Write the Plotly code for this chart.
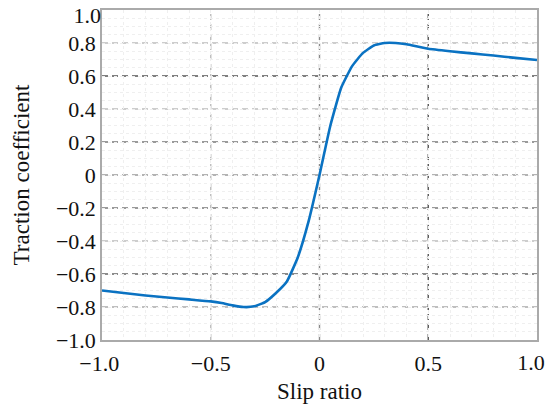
import plotly.graph_objects as go

slip_ratio = [-1.0, -0.9, -0.8, -0.7, -0.6, -0.5, -0.45, -0.4, -0.35, -0.3, -0.25, -0.2,
              -0.15, -0.1, -0.05, 0.0, 0.05, 0.1, 0.15, 0.2, 0.25, 0.3, 0.35, 0.4,
              0.5, 0.6, 0.7, 0.8, 0.9, 1.0]
traction = [-0.70, -0.715, -0.73, -0.742, -0.754, -0.766, -0.776, -0.79, -0.80, -0.796, -0.77, -0.715,
            -0.645, -0.50, -0.28, 0.0, 0.30, 0.53, 0.66, 0.74, 0.785, 0.80, 0.80, 0.792,
            0.765, 0.75, 0.737, 0.724, 0.71, 0.697]

y_ticks = [-1.0, -0.8, -0.6, -0.4, -0.2, 0, 0.2, 0.4, 0.6, 0.8]
y_tick_labels = ["\u22121.0", "\u22120.8", "\u22120.6", "\u22120.4", "\u22120.2", "0",
                 "0.2", "0.4", "0.6", "0.8"]
y_end_tick = [1.0]
y_end_label = ["1.0"]
x_ticks = [-1.0, -0.5, 0, 0.5]
x_tick_labels = ["\u22121.0\u00a0", "\u22120.5", "0", "0.5"]
x_end_tick = [1.0]
x_end_label = ["1.0"]

# dashed major grid levels and their shades
h_grid = [0.8, 0.6, 0.4, 0.2, 0.0, -0.2, -0.4, -0.6, -0.8]
h_grid_col = ["#bdbdbd", "#555555", "#bdbdbd", "#7a7a7a", "#9a9a9a", "#7a7a7a", "#bdbdbd", "#666666", "#aaaaaa"]
v_grid = [-0.5, 0.0, 0.5]
v_grid_col = ["#bdbdbd", "#8a8a8a", "#555555"]

fig = go.Figure()
fig.add_trace(go.Scatter(x=slip_ratio, y=traction, mode="lines",
                         line=dict(color="#0a72c2", width=2.6, shape="spline", smoothing=0.4),
                         showlegend=False, hoverinfo="skip"))
# empty trace to activate the overlay axes carrying the end tick labels
fig.add_trace(go.Scatter(x=[], y=[], xaxis="x2", yaxis="y2", showlegend=False))

shapes = []
for yv, c in zip(h_grid, h_grid_col):
    shapes.append(dict(type="line", xref="paper", x0=0, x1=1, yref="y", y0=yv, y1=yv,
                       line=dict(color=c, width=1.4, dash="6px,4px"), layer="below"))
for xv, c in zip(v_grid, v_grid_col):
    shapes.append(dict(type="line", yref="paper", y0=0, y1=1, xref="x", x0=xv, x1=xv,
                       line=dict(color=c, width=1.4, dash="6px,4px"), layer="below"))

font = "Liberation Serif, Times New Roman, serif"
fig.update_layout(
    width=546, height=409,
    margin=dict(l=102, r=9, t=10, b=69),
    paper_bgcolor="white", plot_bgcolor="white",
    font=dict(family=font, size=22, color="#111111"),
    shapes=shapes,
    xaxis=dict(range=[-1, 1], tickvals=x_ticks, ticktext=x_tick_labels,
               showgrid=False, zeroline=False, automargin=False,
               showline=True, linecolor="#aaaaaa", linewidth=1.5, mirror=True,
               ticks="", ticklen=0, ticklabeloverflow="allow", ticklabelstandoff=3,
               minor=dict(dtick=0.1, showgrid=True, gridcolor="#efefef", griddash="dot", gridwidth=1),
               title=dict(text="Slip ratio", font=dict(size=23), standoff=8)),
    yaxis=dict(range=[-1, 1], tickvals=y_ticks, ticktext=y_tick_labels,
               showgrid=False, zeroline=False, automargin=False,
               showline=True, linecolor="#aaaaaa", linewidth=1.5, mirror=True,
               ticks="", ticklen=0, ticklabeloverflow="allow",
               minor=dict(dtick=0.05, showgrid=True, gridcolor="#efefef", griddash="dot", gridwidth=1),
               title=dict(text="Traction coefficient", font=dict(size=23), standoff=20)),
    xaxis2=dict(range=[-1, 1], overlaying="x", anchor="y2", side="bottom",
                tickvals=x_end_tick, ticktext=x_end_label,
                showgrid=False, zeroline=False, showline=False, automargin=False,
                ticks="", ticklabeloverflow="allow", ticklabelstandoff=7, ticklabelshift=-6),
    yaxis2=dict(range=[-1, 1], overlaying="y", anchor="x2", side="left",
                tickvals=y_end_tick, ticktext=y_end_label,
                showgrid=False, zeroline=False, showline=False, automargin=False,
                ticks="", ticklabeloverflow="allow", ticklabelshift=5),
)

fig.write_html("out.html", post_script="document.body.style.margin='0';",
               config={"displayModeBar": False})
